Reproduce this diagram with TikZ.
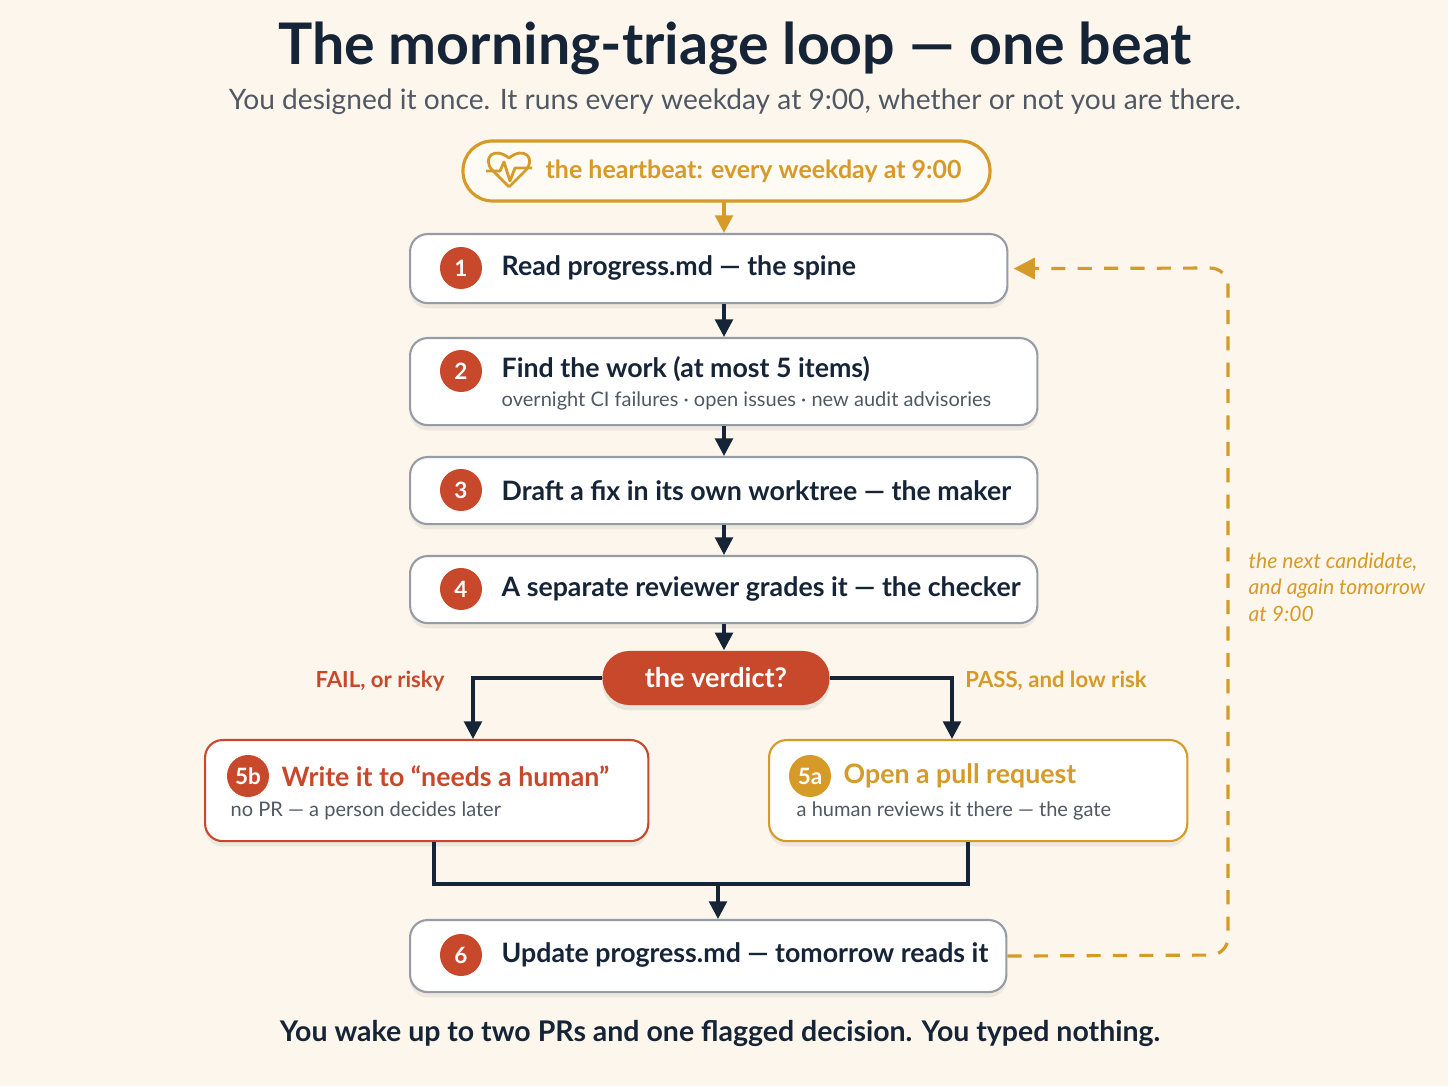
\documentclass[tikz,border=0pt]{standalone}
\usepackage{fontspec}
\setmainfont{Lato}
\usetikzlibrary{positioning,arrows.meta,shadows}
\definecolor{bgcream}{RGB}{253,246,236}
\definecolor{navy}{RGB}{22,36,56}
\definecolor{rust}{RGB}{200,72,43}
\definecolor{amber}{RGB}{214,154,40}
\definecolor{slate}{RGB}{80,88,100}
\definecolor{edge}{RGB}{150,156,166}

\begin{document}
\begin{tikzpicture}[x=0.01cm,y=-0.01cm,
    stage/.style={draw=edge,line width=0.6pt,fill=white,rounded corners=5pt,drop shadow={opacity=0.12,shadow xshift=0pt,shadow yshift=-1.5pt}},
    num/.style={circle,fill=rust,text=white,font=\fontsize{6.4}{7}\selectfont\bfseries,minimum size=0.42cm,inner sep=0pt},
    main/.style={anchor=west,text=navy,font=\fontsize{7.6}{9}\selectfont\bfseries,inner sep=0pt},
    sub/.style={anchor=west,text=slate,font=\fontsize{5.7}{7}\selectfont,inner sep=0pt},
    flow/.style={navy,line width=1pt,-{Triangle[length=5pt,width=5pt]}},
    link/.style={navy,line width=1pt}]
    \fill[bgcream] (0,0) rectangle (1448,1086);
    \useasboundingbox (0,0) rectangle (1448,1086);

    % heading
    \node[text=navy,font=\fontsize{16.3}{20}\selectfont\bfseries] (title) at (735,48) {The morning-triage loop — one beat};
    \node[text=slate,font=\fontsize{8}{10}\selectfont] (subtitle) at (735,102) {You designed it once. It runs every weekday at 9:00, whether or not you are there.};

    % heartbeat
    \draw[amber,line width=0.9pt,fill=bgcream!60!white,rounded corners=8.4pt] (463,141) rectangle (990,201);
    \coordinate (beat) at (724,201);
    \node[anchor=west,text=amber,font=\fontsize{7.1}{8}\selectfont\bfseries,inner sep=0pt] (beattext) at (545,171) {the heartbeat: every weekday at 9:00};
    \draw[amber,line width=0.8pt,line join=round] (509,187) -- (492,170) .. controls (482,158) and (494,146) .. (509,158) .. controls (524,146) and (536,158) .. (526,170) -- (509,187);
    \draw[amber,line width=0.8pt,line join=round] (486,171) -- (500,171) -- (504,162) -- (510,181) -- (515,168) -- (532,168);

    % steps
    \node[stage,minimum width=5.97cm,minimum height=0.69cm,anchor=north west] (s1) at (409,233) {};
    \node[stage,minimum width=6.27cm,minimum height=0.87cm,anchor=north west] (s2) at (409,337) {};
    \node[stage,minimum width=6.27cm,minimum height=0.67cm,anchor=north west] (s3) at (409,456) {};
    \node[stage,minimum width=6.27cm,minimum height=0.67cm,anchor=north west] (s4) at (409,555) {};
    \node[stage,minimum width=5.96cm,minimum height=0.72cm,anchor=north west] (s6) at (409,919) {};
    \node[stage,draw=rust,minimum width=4.43cm,minimum height=1.01cm,anchor=north west] (s5b) at (204,739) {};
    \node[stage,draw=amber,minimum width=4.18cm,minimum height=1.01cm,anchor=north west] (s5a) at (768,739) {};

    \node[num] at (461,268) {1};
    \node[main] at (501,268) {Read progress.md — the spine};
    \node[num] at (461,371) {2};
    \node[main] at (501,369) {Find the work (at most 5 items)};
    \node[sub] at (501,401) {overnight CI failures · open issues · new audit advisories};
    \node[num] at (461,490) {3};
    \node[main] at (501,491) {Draft a fix in its own worktree — the maker};
    \node[num] at (461,589) {4};
    \node[main] at (501,589) {A separate reviewer grades it — the checker};
    \node[num] at (461,955) {6};
    \node[main] at (501,955) {Update progress.md — tomorrow reads it};

    \node[num] at (248,776) {5b};
    \node[main,text=rust] at (281,776) {Write it to “needs a human”};
    \node[sub] at (230,811) {no PR — a person decides later};
    \node[num,fill=amber] at (810,776) {5a};
    \node[main,text=amber] at (843,776) {Open a pull request};
    \node[sub] at (796,811) {a human reviews it there — the gate};

    % verdict
    \node[fill=rust,rounded corners=7.6pt,minimum width=2.27cm,minimum height=0.54cm,text=white,font=\fontsize{7.7}{9}\selectfont\bfseries,drop shadow={opacity=0.15,shadow xshift=0pt,shadow yshift=-1.5pt}] (verdict) at (716,678) {the verdict?};
    \node[text=rust,font=\fontsize{6.3}{7}\selectfont\bfseries] (fail) at (380,681) {FAIL, or risky};
    \node[text=amber,font=\fontsize{6.3}{7}\selectfont\bfseries] (pass) at (1056,681) {PASS, and low risk};

    % connectors
    \coordinate (spine) at (724,0);
    \coordinate (leftdrop) at (473,0);
    \coordinate (rightdrop) at (952,0);
    \coordinate (leftup) at (434,0);
    \coordinate (rightup) at (968,0);
    \coordinate (merge) at (718,884);
    \draw[flow,amber] (beat) -- (s1.north -| spine);
    \draw[flow] (s1.south -| spine) -- (s2.north -| spine);
    \draw[flow] (s2.south -| spine) -- (s3.north -| spine);
    \draw[flow] (s3.south -| spine) -- (s4.north -| spine);
    \draw[flow] (s4.south -| spine) -- (verdict.north -| spine);
    \draw[flow] (verdict.west) -| (s5b.north -| leftdrop);
    \draw[flow] (verdict.east) -| (s5a.north -| rightdrop);
    \draw[link] (s5b.south -| leftup) |- (merge) -| (s5a.south -| rightup);
    \draw[flow] (merge) -- (s6.north -| merge);

    % loop back
    \coordinate (loopbot) at (1228,955);
    \coordinate (looptop) at (1228,268);
    \draw[amber,line width=0.9pt,dash pattern=on 4pt off 3.5pt,rounded corners=5pt,-{Triangle[length=6pt,width=6pt]}]
        (s6.east) -- (loopbot) -- (looptop) -- ([xshift=1.5pt]s1.east);
    \node[anchor=north west,align=left,text=amber,font=\fontsize{6}{7.6}\selectfont\itshape,inner sep=0pt] (loopnote) at (1248,552) {the next candidate,\\and again tomorrow\\at 9:00};

    % footer
    \node[text=navy,font=\fontsize{8.1}{10}\selectfont\bfseries] (footer) at (720,1033) {You wake up to two PRs and one flagged decision. You typed nothing.};
\end{tikzpicture}
\end{document}
